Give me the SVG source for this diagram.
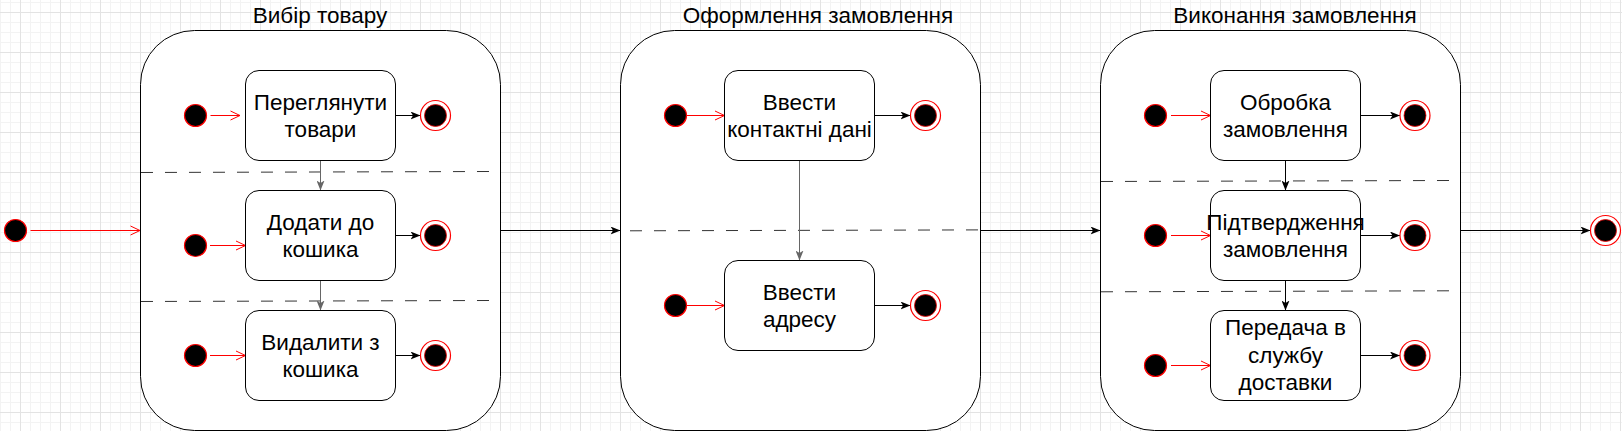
<svg xmlns="http://www.w3.org/2000/svg" width="1622" height="431" viewBox="0 0 1622 431">
  <defs>
    <pattern id="grid" x="20" y="12" width="40" height="40" patternUnits="userSpaceOnUse">
      <path d="M10.5,0 V40 M20.5,0 V40 M30.5,0 V40 M0,10.5 H40 M0,20.5 H40 M0,30.5 H40" stroke="#f3f3f3" stroke-width="1" fill="none"/>
      <path d="M0.5,0 V40 M0,0.5 H40" stroke="#e3e3e3" stroke-width="1" fill="none"/>
    </pattern>
    <marker id="classic" markerUnits="userSpaceOnUse" viewBox="0 0 10 8" markerWidth="10" markerHeight="8" refX="10" refY="4" orient="auto">
      <path d="M0,0 L10,4 L0,8 L2.5,4 Z" fill="#000"/>
    </marker>
    <marker id="classicGray" markerUnits="userSpaceOnUse" viewBox="0 0 8 10" markerWidth="8" markerHeight="10" refX="4" refY="10" orient="0">
      <path d="M0,0 L4,2.5 L8,0 L4,10 Z" fill="#666"/>
    </marker>
    <marker id="classicDown" markerUnits="userSpaceOnUse" viewBox="0 0 8 10" markerWidth="8" markerHeight="10" refX="4" refY="10" orient="0">
      <path d="M0,0 L4,2.5 L8,0 L4,10 Z" fill="#000"/>
    </marker>
    <marker id="open" markerUnits="userSpaceOnUse" viewBox="-1 -1 12 12" markerWidth="12" markerHeight="12" refX="9.5" refY="4.5" orient="auto">
      <path d="M0,0 L9.5,4.5 L0,9" fill="none" stroke="#ff0000" stroke-width="1"/>
    </marker>
  </defs>
  <style>
    .composite { fill: #ffffff; stroke: #000000; stroke-width: 1; }
    .state { fill: #ffffff; stroke: #000000; stroke-width: 1; }
    .divider { stroke: #333333; stroke-width: 1; stroke-dasharray: 12 12; fill: none; }
    .init { fill: #000000; stroke: #ff0000; stroke-width: 1.2; }
    .finalOuter { fill: #ffffff; stroke: #ff0000; stroke-width: 1.2; }
    .finalInner { fill: #000000; stroke: #ff0000; stroke-width: 0.8; }
    .label { font-family: "Liberation Sans", Arial, sans-serif; font-size: 22.5px; fill: #000000; text-anchor: middle; }
    .red { stroke: #ff0000; stroke-width: 1; fill: none; marker-end: url(#open); }
    .blk { stroke: #000000; stroke-width: 1; fill: none; marker-end: url(#classic); }
    .gray { stroke: #666666; stroke-width: 1; fill: none; marker-end: url(#classicGray); }
    .down { stroke: #000000; stroke-width: 1; fill: none; marker-end: url(#classicDown); }
  </style>

  <rect x="0" y="0" width="1622" height="431" fill="#ffffff"/>
  <rect x="0" y="0" width="1622" height="431" fill="url(#grid)"/>

  <!-- Composite states -->
  <g id="composite-vybir">
    <rect class="composite" x="140.5" y="30.5" width="360" height="400" rx="54" ry="54"/>
    <text class="label" x="320" y="23">Вибір товару</text>
    <path class="divider" d="M141,172.5 L489,171.5"/>
    <path class="divider" d="M141,301.5 L490,300.5"/>
  </g>
  <g id="composite-oformlennia">
    <rect class="composite" x="620.5" y="30.5" width="360" height="400" rx="54" ry="54"/>
    <text class="label" x="818" y="23">Оформлення замовлення</text>
    <path class="divider" d="M630,230.8 L979,229.9"/>
  </g>
  <g id="composite-vykonannia">
    <rect class="composite" x="1100.5" y="30.5" width="360" height="400" rx="54" ry="54"/>
    <text class="label" x="1295" y="23">Виконання замовлення</text>
    <path class="divider" d="M1101,181.5 L1449,180.5"/>
    <path class="divider" d="M1101,291.8 L1449,290.8"/>
  </g>

  <!-- Connectors -->
  <g id="connectors">
    <!-- top-level -->
    <line class="red" x1="30.5" y1="230.5" x2="140" y2="230.5"/>
    <line class="blk" x1="500.5" y1="230.5" x2="620.5" y2="230.5"/>
    <line class="blk" x1="980.5" y1="230.5" x2="1100.5" y2="230.5"/>
    <line class="blk" x1="1460.5" y1="230.5" x2="1590.5" y2="230.5"/>
    <!-- composite 1 -->
    <line class="red" x1="210.5" y1="115.5" x2="240" y2="115.5"/>
    <line class="red" x1="210" y1="245.5" x2="245.5" y2="245.5"/>
    <line class="red" x1="210" y1="355.5" x2="245.5" y2="355.5"/>
    <line class="blk" x1="395.5" y1="115.5" x2="420.5" y2="115.5"/>
    <line class="blk" x1="395.5" y1="235.5" x2="420.5" y2="235.5"/>
    <line class="blk" x1="395.5" y1="355.5" x2="420.5" y2="355.5"/>
    <line class="gray" x1="320.5" y1="160.5" x2="320.5" y2="190.5"/>
    <line class="gray" x1="320.5" y1="280.5" x2="320.5" y2="310.5"/>
    <!-- composite 2 -->
    <line class="red" x1="687" y1="115.5" x2="724.5" y2="115.5"/>
    <line class="red" x1="687" y1="305.5" x2="724.5" y2="305.5"/>
    <line class="blk" x1="874.5" y1="115.5" x2="910.5" y2="115.5"/>
    <line class="blk" x1="874.5" y1="305.5" x2="910.5" y2="305.5"/>
    <line class="gray" x1="799.5" y1="160.5" x2="799.5" y2="260.5"/>
    <!-- composite 3 -->
    <line class="red" x1="1171" y1="115.5" x2="1210.5" y2="115.5"/>
    <line class="red" x1="1171" y1="235.5" x2="1210.5" y2="235.5"/>
    <line class="red" x1="1171" y1="365.5" x2="1210.5" y2="365.5"/>
    <line class="blk" x1="1360.5" y1="115.5" x2="1400" y2="115.5"/>
    <line class="blk" x1="1360.5" y1="235.5" x2="1400" y2="235.5"/>
    <line class="blk" x1="1360.5" y1="355.5" x2="1400" y2="355.5"/>
    <line class="down" x1="1285.5" y1="160.5" x2="1285.5" y2="190.5"/>
    <line class="down" x1="1285.5" y1="280.5" x2="1285.5" y2="310.5"/>
  </g>

  <!-- Top-level pseudostates -->
  <g id="start"><circle class="init" cx="15.5" cy="230.5" r="11"/></g>
  <g id="end"><circle class="finalOuter" cx="1605.5" cy="230.5" r="15"/><circle class="finalInner" cx="1605.5" cy="230.5" r="11"/></g>

  <!-- Composite 1 contents -->
  <g id="c1-init1"><circle class="init" cx="195.5" cy="115.5" r="11"/></g>
  <g id="c1-state1">
    <rect class="state" x="245.5" y="70.5" width="150" height="90" rx="13.5" ry="13.5"/>
    <text class="label"><tspan x="320.5" y="110">Переглянути</tspan><tspan x="320.5" y="137">товари</tspan></text>
  </g>
  <g id="c1-final1"><circle class="finalOuter" cx="435.5" cy="115.5" r="15"/><circle class="finalInner" cx="435.5" cy="115.5" r="11"/></g>

  <g id="c1-init2"><circle class="init" cx="195.5" cy="245.5" r="11"/></g>
  <g id="c1-state2">
    <rect class="state" x="245.5" y="190.5" width="150" height="90" rx="13.5" ry="13.5"/>
    <text class="label"><tspan x="320.5" y="230">Додати до</tspan><tspan x="320.5" y="257">кошика</tspan></text>
  </g>
  <g id="c1-final2"><circle class="finalOuter" cx="435.5" cy="235.5" r="15"/><circle class="finalInner" cx="435.5" cy="235.5" r="11"/></g>

  <g id="c1-init3"><circle class="init" cx="195.5" cy="355.5" r="11"/></g>
  <g id="c1-state3">
    <rect class="state" x="245.5" y="310.5" width="150" height="90" rx="13.5" ry="13.5"/>
    <text class="label"><tspan x="320.5" y="350">Видалити з</tspan><tspan x="320.5" y="377">кошика</tspan></text>
  </g>
  <g id="c1-final3"><circle class="finalOuter" cx="435.5" cy="355.5" r="15"/><circle class="finalInner" cx="435.5" cy="355.5" r="11"/></g>

  <!-- Composite 2 contents -->
  <g id="c2-init1"><circle class="init" cx="675.5" cy="115.5" r="11"/></g>
  <g id="c2-state1">
    <rect class="state" x="724.5" y="70.5" width="150" height="90" rx="13.5" ry="13.5"/>
    <text class="label"><tspan x="799.5" y="110">Ввести</tspan><tspan x="799.5" y="137">контактні дані</tspan></text>
  </g>
  <g id="c2-final1"><circle class="finalOuter" cx="925.5" cy="115.5" r="15"/><circle class="finalInner" cx="925.5" cy="115.5" r="11"/></g>

  <g id="c2-init2"><circle class="init" cx="675.5" cy="305.5" r="11"/></g>
  <g id="c2-state2">
    <rect class="state" x="724.5" y="260.5" width="150" height="90" rx="13.5" ry="13.5"/>
    <text class="label"><tspan x="799.5" y="300">Ввести</tspan><tspan x="799.5" y="327">адресу</tspan></text>
  </g>
  <g id="c2-final2"><circle class="finalOuter" cx="925.5" cy="305.5" r="15"/><circle class="finalInner" cx="925.5" cy="305.5" r="11"/></g>

  <!-- Composite 3 contents -->
  <g id="c3-init1"><circle class="init" cx="1155.5" cy="115.5" r="11"/></g>
  <g id="c3-state1">
    <rect class="state" x="1210.5" y="70.5" width="150" height="90" rx="13.5" ry="13.5"/>
    <text class="label"><tspan x="1285.5" y="110">Обробка</tspan><tspan x="1285.5" y="137">замовлення</tspan></text>
  </g>
  <g id="c3-final1"><circle class="finalOuter" cx="1415" cy="115.5" r="15"/><circle class="finalInner" cx="1415" cy="115.5" r="11"/></g>

  <g id="c3-init2"><circle class="init" cx="1155.5" cy="235.5" r="11"/></g>
  <g id="c3-state2">
    <rect class="state" x="1210.5" y="190.5" width="150" height="90" rx="13.5" ry="13.5"/>
    <text class="label"><tspan x="1285.5" y="230">Підтвердження</tspan><tspan x="1285.5" y="257">замовлення</tspan></text>
  </g>
  <g id="c3-final2"><circle class="finalOuter" cx="1415" cy="235.5" r="15"/><circle class="finalInner" cx="1415" cy="235.5" r="11"/></g>

  <g id="c3-init3"><circle class="init" cx="1155.5" cy="365.5" r="11"/></g>
  <g id="c3-state3">
    <rect class="state" x="1210.5" y="310.5" width="150" height="90" rx="13.5" ry="13.5"/>
    <text class="label"><tspan x="1285.5" y="335">Передача в</tspan><tspan x="1285.5" y="362.5">службу</tspan><tspan x="1285.5" y="390">доставки</tspan></text>
  </g>
  <g id="c3-final3"><circle class="finalOuter" cx="1415" cy="355.5" r="15"/><circle class="finalInner" cx="1415" cy="355.5" r="11"/></g>
</svg>
